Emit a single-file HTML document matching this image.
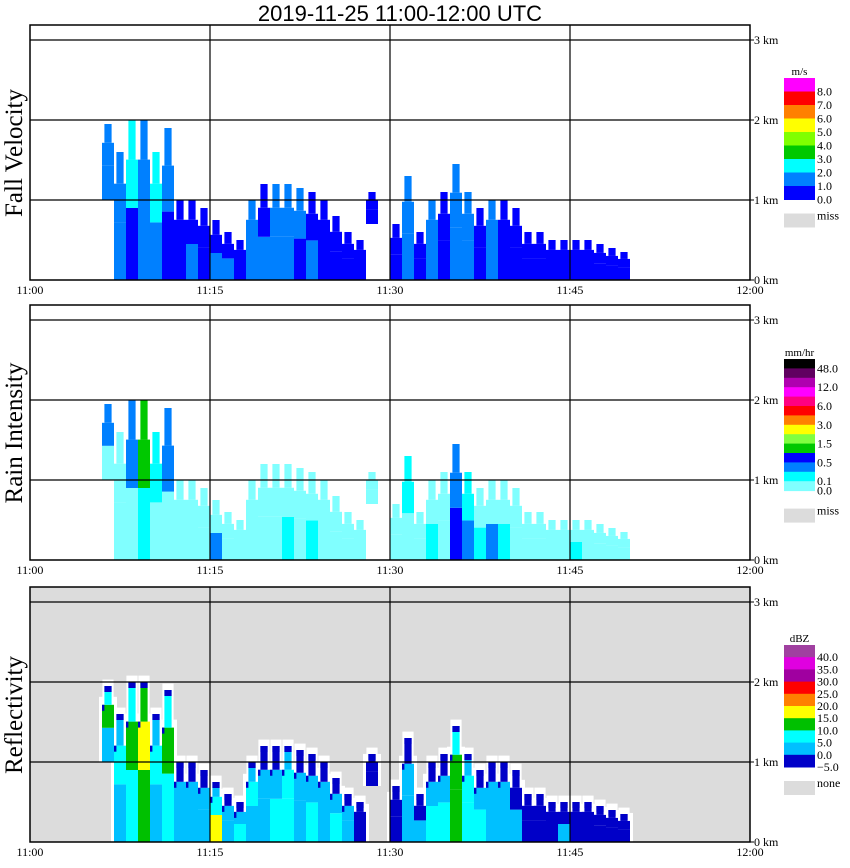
<!DOCTYPE html>
<html><head><meta charset="utf-8"><style>
html,body{margin:0;padding:0;background:#fff;}
svg{display:block;}
text{font-family:"Liberation Serif",serif;}
</style></head><body>
<svg id="chart" width="850" height="868" xmlns="http://www.w3.org/2000/svg">
<text x="400" y="21" text-anchor="middle" style="font-family:'Liberation Sans',sans-serif" font-size="22">2019-11-25   11:00-12:00 UTC</text>
</svg>
<script>
// ---- data (minutes after 11:00, start at minute 6) ----
const startMinute = 6;
const tops = [1.95,1.6,2.0,2.0,1.6,1.9,1.0,1.0,0.9,0.75,0.6,0.5,1.0,1.2,1.2,1.2,1.15,1.1,1.0,0.8,0.6,0.5,1.1,0.0,0.7,1.3,0.6,1.0,1.1,1.45,1.1,0.9,1.0,1.0,0.9,0.6,0.6,0.5,0.5,0.5,0.5,0.45,0.4,0.35];
const bases = [1.0,0,0,0,0,0,0,0,0,0,0,0,0,0,0,0,0,0,0,0,0,0,0.7,0,0,0,0,0,0,0,0,0,0,0,0,0,0,0,0,0,0,0,0,0];
const fvLow  = [1,1,0,1,1,0,0,1,0,1,1,0,1,1,1,1,0,1,0,0,0,0,0,0,0,1,0,1,0,1,1,0,1,0,0,0,0,0,0,0,0,0,0,0];
const fvHigh = [1,1,2,1,2,1,0,0,0,0,0,0,1,0,1,1,1,0,0,0,0,0,0,0,0,1,0,1,0,1,1,0,1,0,0,0,0,0,0,0,0,0,0,0];
const riLow  = [0,0,0,1,0,0,0,0,0,2,0,0,0,0,0,1,0,1,0,0,0,0,0,0,0,0,0,1,0,3,2,1,2,1,0,0,0,0,0,1,0,0,0,0];
const riHigh = [2,0,2,4,1,2,0,0,0,0,0,0,0,0,0,0,0,0,0,0,0,0,0,0,0,1,0,0,0,2,1,0,0,0,0,0,0,0,0,0,0,0,0,0];
const dbzLow = [1,1,2,3,1,2,1,1,1,4,1,2,1,1,2,2,1,2,1,2,1,0,0,0,0,1,1,2,2,3,2,2,1,1,1,0,0,0,1,0,0,0,0,0];
const dbzHigh= [3,2,3,4,2,3,1,1,1,2,1,1,2,1,1,2,1,1,1,1,1,0,0,0,0,1,0,1,1,3,2,1,1,1,0,0,0,0,0,0,0,0,0,0];
const timeLabels = ["11:00","11:15","11:30","11:45","12:00"];
const kmLabels = ["0 km","1 km","2 km","3 km"];
const fvLegend = ["8.0","7.0","6.0","5.0","4.0","3.0","2.0","1.0","0.0"];
const riLegend = ["48.0","","12.0","","6.0","","3.0","","1.5","","0.5","","0.1","0.0"];
const dbzLegend = ["40.0","35.0","30.0","25.0","20.0","15.0","10.0","5.0","0.0","\u22125.0"];

const fvPal = ['#0000ff','#0080ff','#00ffff','#00c800','#80ff00','#ffff00','#ff8000','#ff0000','#ff00ff'];
const riPal = ['#80ffff','#00ffff','#0080ff','#0000ff','#00c800','#80ff40','#ffff00','#ff8000','#ff0000','#ff0080','#ff00ff','#b000b0','#600060','#000000'];
const dbzPal= ['#0000c8','#00c0ff','#00ffff','#00c000','#ffff00','#ff8000','#ff0000','#a000a0','#e000e0','#a040a0'];

const NS='http://www.w3.org/2000/svg';
const svg=document.getElementById('chart');
const X0=30,X1=750;
function xs(min){return X0+(X1-X0)*min/60;}
function mk(tag,attrs,parent){const e=document.createElementNS(NS,tag);for(const k in attrs)e.setAttribute(k,attrs[k]);(parent||svg).appendChild(e);return e;}

function panel(top,title,low,high,pal,isRefl,legTitle,legLabels,legPal,missLabel,name){
  const bottom=top+255;
  const ys=km=>bottom-80*km;
  const g=mk('g',{});
  
  
  if(isRefl){const bg=mk('rect',{x:X0,y:top,width:X1-X0,height:255,fill:'#dcdcdc'},g);
    }
  const geo=i=>{const m=startMinute+i,t=tops[i],b=bases[i],x=xs(m),w=xs(m+1)-xs(m);
    const mid=b+(t-b)*0.45, sh=mid+(t-mid)*0.55; return {m,t,b,x,w,mid,sh};};
  if(isRefl){
    for(let i=0;i<tops.length;i++){if(tops[i]<=0)continue;const q=geo(i);
      const wr=mk('rect',{x:q.x-3,y:ys(q.sh+0.1),width:q.w+6,height:ys(q.b)-ys(q.sh+0.1),fill:'#fff'},g);
      
      const wt=mk('rect',{x:q.x+q.w*0.2-2,y:ys(q.t+0.08),width:q.w*0.6+4,height:ys(q.sh)-ys(q.t+0.08),fill:'#fff'},g);
      }
  }
  for(let i=0;i<tops.length;i++){
    if(tops[i]<=0)continue;
    const q=geo(i);
    const r1=mk('rect',{x:q.x,y:ys(q.mid),width:q.w,height:ys(q.b)-ys(q.mid),fill:pal[low[i]]},g);
    
    const r2=mk('rect',{x:q.x,y:ys(q.sh),width:q.w,height:ys(q.mid)-ys(q.sh),fill:pal[high[i]]},g);
    
    const tipCol=isRefl?pal[Math.max(0,high[i]-1)]:pal[high[i]];
    const r3=mk('rect',{x:q.x+q.w*0.2,y:ys(q.t),width:q.w*0.6,height:ys(q.sh)-ys(q.t),fill:tipCol},g);
    
    if(isRefl){
      const e=mk('rect',{x:q.x+q.w*0.2,y:ys(q.t),width:q.w*0.6,height:Math.min(6,ys(q.b)-ys(q.t)),fill:pal[0]},g);
      
      const e2=mk('rect',{x:q.x,y:ys(q.sh),width:q.w*0.2,height:Math.min(6,ys(q.b)-ys(q.sh)),fill:pal[0]},g);
      }
  }
  for(let k=1;k<=3;k++){const l=mk('line',{x1:X0,x2:X1,y1:ys(k),y2:ys(k),stroke:'#000','stroke-width':1.2},g);
    }
  for(let q=1;q<=3;q++){const l=mk('line',{x1:xs(q*15),x2:xs(q*15),y1:top,y2:bottom,stroke:'#000','stroke-width':1.2},g);
    }
  const fr=mk('rect',{x:X0,y:top,width:X1-X0,height:255,fill:'none',stroke:'#000','stroke-width':1.5},g);
  
  for(let k=0;k<=3;k++){const tk=mk('line',{x1:X1,x2:X1+4,y1:ys(k),y2:ys(k),stroke:'#000'},g);
    
    const tl=mk('text',{x:X1+4,y:ys(k)+4,'font-size':12},g);tl.textContent=kmLabels[k];
    }
  for(let q=0;q<timeLabels.length;q++){const tl=mk('text',{x:xs(q*15),y:bottom+14,'font-size':12,'text-anchor':'middle'},g);
    tl.textContent=timeLabels[q];}
  const yt=mk('text',{x:0,y:0,'font-size':25,'text-anchor':'middle',transform:`translate(22,${top+128}) rotate(-90)`},g);
  yt.textContent=title;
  const lx=784,lw=31;
  const n=legPal.length;
  const bh=(name==='fall-velocity')?13.5:(name==='rain-intensity'?9.4:12.2);
  const ly=(name==='fall-velocity')?top+53:(name==='rain-intensity'?top+54:top+58);
  const lt=mk('text',{x:lx+lw/2,y:ly-3,'font-size':11,'text-anchor':'middle'},g);lt.textContent=legTitle;
  
  for(let j=0;j<n;j++){
    const c=legPal[n-1-j];
    const r=mk('rect',{x:lx,y:ly+j*bh,width:lw,height:bh+0.5,fill:c},g);
    
    if(legLabels[j]){const t=mk('text',{x:lx+lw+2,y:ly+(j+1)*bh+4,'font-size':12},g);t.textContent=legLabels[j];
      }
  }
  if(legLabels.length>n){const t=mk('text',{x:lx+lw+2,y:ly+n*bh+12,'font-size':12},g);t.textContent=legLabels[n];
    }
  const my=ly+n*bh+(name==='rain-intensity'?18:14);
  const mr=mk('rect',{x:lx,y:my,width:lw,height:14,fill:'#dcdcdc'},g);
  
  const mt=mk('text',{x:lx+lw+2,y:my+6,'font-size':12},g);mt.textContent=missLabel;
  
}
panel(25,'Fall Velocity',fvLow,fvHigh,fvPal,false,'m/s',fvLegend,fvPal,'miss','fall-velocity');
panel(305,'Rain Intensity',riLow,riHigh,riPal,false,'mm/hr',riLegend,riPal,'miss','rain-intensity');
panel(587,'Reflectivity',dbzLow,dbzHigh,dbzPal,true,'dBZ',dbzLegend,dbzPal,'none','reflectivity');
</script>
</body></html>
